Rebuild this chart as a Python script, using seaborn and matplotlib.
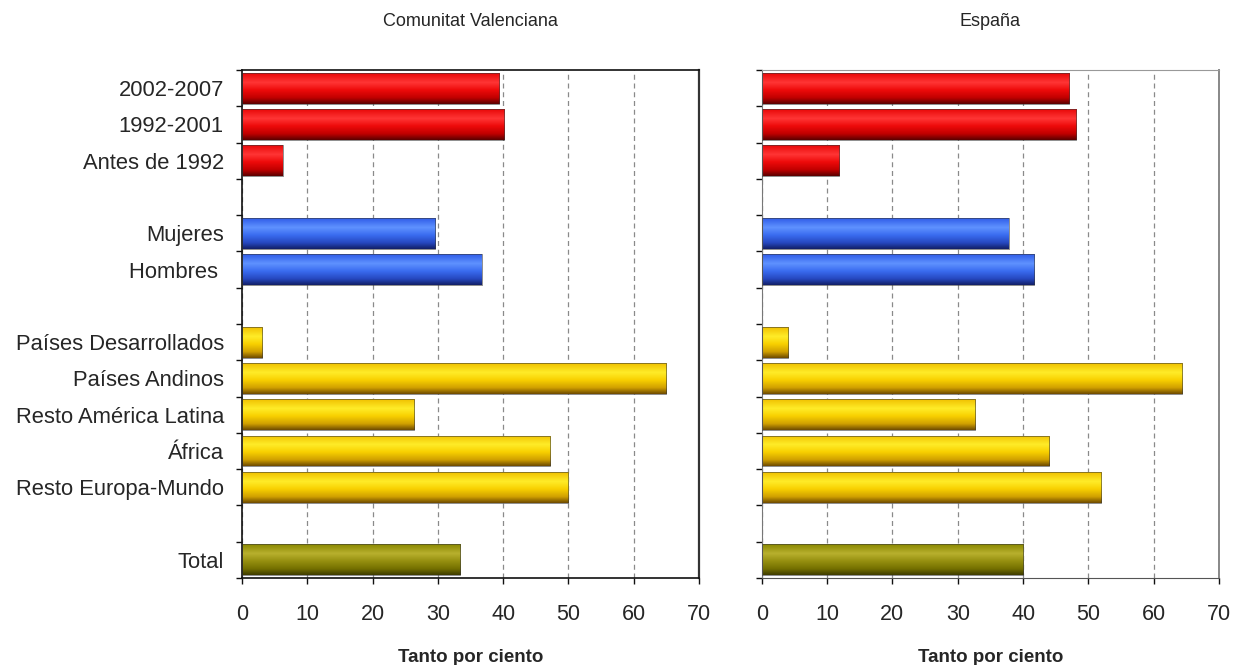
import numpy as np
import pandas as pd
import matplotlib
matplotlib.use("Agg")
import matplotlib.pyplot as plt
from matplotlib.colors import LinearSegmentedColormap
import seaborn as sns

# Category order (blank entries are spacer rows between groups)
categories = ["2002-2007", "1992-2001", "Antes de 1992", " ",
              "Mujeres", "Hombres ", "  ",
              "Países Desarrollados", "Países Andinos", "Resto América Latina",
              "África", "Resto Europa-Mundo", "   ", "Total"]

labels = ["2002-2007", "1992-2001", "Antes de 1992",
          "Mujeres", "Hombres ",
          "Países Desarrollados", "Países Andinos", "Resto América Latina",
          "África", "Resto Europa-Mundo", "Total"]
groups = ["periodo", "periodo", "periodo",
          "sexo", "sexo",
          "origen", "origen", "origen", "origen", "origen",
          "total"]

valencia = [39.4, 40.2, 6.2, 29.6, 36.7, 3.1, 65.0, 26.4, 47.2, 50.0, 33.4]
espana = [47.1, 48.1, 11.9, 37.8, 41.7, 4.0, 64.4, 32.7, 44.0, 52.0, 40.0]

panel_titles = ["Comunitat Valenciana", "España"]
xticks = [0, 10, 20, 30, 40, 50, 60, 70]

base_colors = {"periodo": "#ee0000", "sexo": "#3366ee",
               "origen": "#f5c800", "total": "#8f8a10"}
# Vertical shading for each group: top -> highlight -> body -> dark bottom
shades = {
    "periodo": ["#e80808", "#ff3535", "#ee0a0a", "#c00000", "#5a0000"],
    "sexo": ["#2f5ce8", "#5f92ff", "#3a6cf0", "#2648c0", "#121f66"],
    "origen": ["#f0c000", "#ffec28", "#f8d000", "#d0a000", "#6e4a00"],
    "total": ["#8a8800", "#b8b02e", "#969010", "#747000", "#3e3c00"],
}

plt.rcParams["font.family"] = ["Liberation Sans", "DejaVu Sans"]
text_color = "#262626"

fig = plt.figure(figsize=(12.33, 6.65), dpi=100)
ax_l = fig.add_axes([0.1963, 0.1308, 0.3706, 0.7639])
ax_r = fig.add_axes([0.6178, 0.1308, 0.3709, 0.7639])

for ax, vals, title in zip([ax_l, ax_r], [valencia, espana], panel_titles):
    df = pd.DataFrame({"categoria": labels, "valor": vals, "grupo": groups})
    sns.barplot(data=df, y="categoria", x="valor", hue="grupo",
                order=categories, palette=base_colors, orient="h",
                width=0.85, dodge=False, legend=False, ax=ax,
                edgecolor="none", linewidth=0)

    # shade each bar with a vertical gradient clipped to the bar
    for patch in list(ax.patches):
        w = patch.get_width()
        if not np.isfinite(w) or w <= 0:
            continue
        y_center = patch.get_y() + patch.get_height() / 2
        idx = int(round(y_center))
        grp = groups[labels.index(categories[idx])]
        cmap = LinearSegmentedColormap.from_list(
            grp, list(zip([0.0, 0.3, 0.55, 0.8, 1.0], shades[grp])))
        grad = np.linspace(0, 1, 128).reshape(-1, 1)
        x0 = patch.get_x()
        y0 = patch.get_y()
        y1 = y0 + patch.get_height()
        im = ax.imshow(grad, cmap=cmap, aspect="auto", origin="upper",
                       extent=(x0, x0 + w, y1, y0), zorder=2,
                       interpolation="bilinear")
        im.set_clip_path(patch)
        patch.set_facecolor("none")
        patch.set_edgecolor("#3a3a3a")
        patch.set_linewidth(0.4)
        patch.set_zorder(3)

    ax.set_xlim(0, 70)
    ax.set_ylim(len(categories) - 0.5, -0.5)
    ax.set_xticks(xticks)
    ax.set_xticklabels([str(t) for t in xticks])
    ax.xaxis.grid(True, linestyle=(0, (4, 3)), color="#8a8a8a", linewidth=0.9)
    ax.yaxis.grid(False)
    ax.set_axisbelow(True)

    # y ticks: labels at row centres, tick marks at row boundaries
    ax.set_yticks(np.arange(len(categories)))
    ax.set_yticks(np.arange(len(categories) + 1) - 0.5, minor=True)
    ax.tick_params(axis="y", which="major", length=0, pad=13,
                   labelsize=15.8, labelcolor=text_color)
    ax.tick_params(axis="y", which="minor", length=4, width=1.0,
                   direction="out", color="#111111")
    ax.tick_params(axis="x", which="major", length=4, width=1.0,
                   direction="out", color="#111111", pad=15,
                   labelsize=15.5, labelcolor=text_color)

    ax.set_ylabel("")
    ax.set_xlabel("Tanto por ciento", fontsize=13.5, fontweight="bold",
                  color=text_color, labelpad=17)
    ax.set_title(title, fontsize=13, color=text_color, pad=32)

# left panel: full dark frame
ax_l.set_yticklabels(categories)
for side in ["left", "bottom", "top"]:
    ax_l.spines[side].set_color("#111111")
    ax_l.spines[side].set_linewidth(1.2)
ax_l.spines["right"].set_color("#333333")
ax_l.spines["right"].set_linewidth(1.6)
ax_l.spines["right"].set_linestyle((0, (2, 1)))

# right panel: lighter frame, no category labels
ax_r.set_yticklabels([])
ax_r.spines["left"].set_color("#777777")
ax_r.spines["bottom"].set_color("#555555")
ax_r.spines["top"].set_color("#999999")
ax_r.spines["right"].set_color("#888888")
ax_r.spines["right"].set_linestyle((0, (2, 1)))
ax_r.spines["right"].set_linewidth(1.4)

fig.savefig("out.png", dpi=100, facecolor="white")
